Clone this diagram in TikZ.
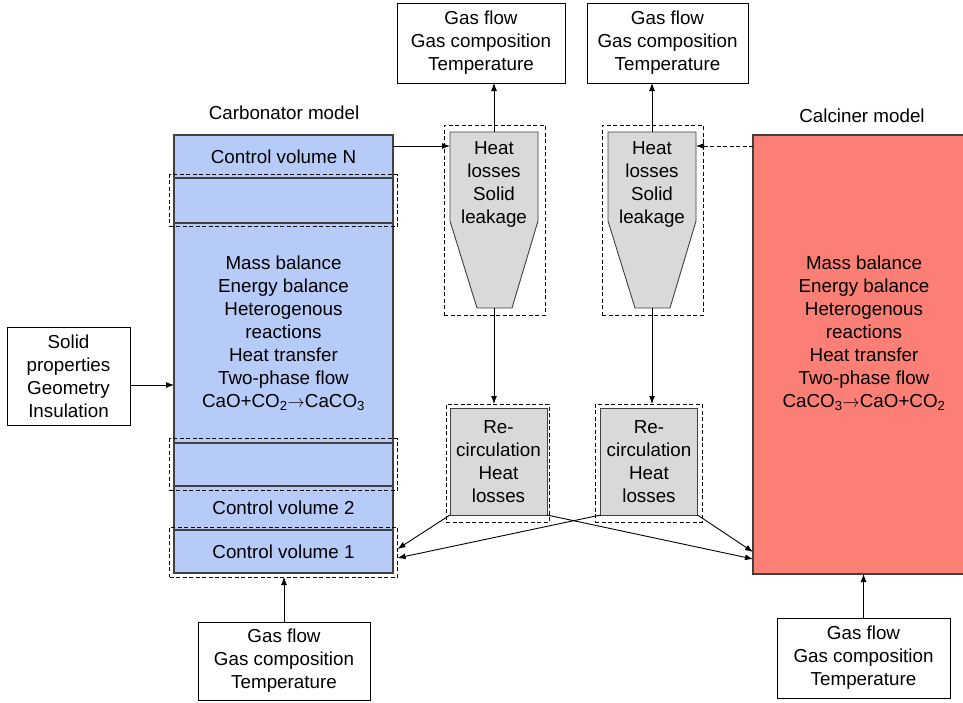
\documentclass[tikz,border=0pt]{standalone}
\usepackage{fontspec}
\setmainfont{Liberation Sans}
\usetikzlibrary{arrows.meta,calc}

\definecolor{carbblue}{RGB}{183,203,248}
\definecolor{calcred}{RGB}{251,127,117}
\definecolor{cycgray}{RGB}{217,217,217}
\definecolor{edgegray}{RGB}{64,64,64}

\begin{document}
\begin{tikzpicture}[x=1pt,y=-1pt,>={Latex[length=8pt,width=6pt]},
                    font=\fontsize{18.8}{23}\selectfont]
  \tikzstyle{box}=[rectangle,draw=black,line width=0.9pt,inner sep=0pt,outer sep=0pt,align=center]
  \tikzstyle{carb cell}=[box,draw=edgegray,fill=carbblue,line width=1.2pt,minimum width=219pt]
  \tikzstyle{dash box}=[rectangle,draw=black,line width=0.8pt,dash pattern=on 4pt off 2.5pt,inner sep=0pt,outer sep=0pt]
  \tikzstyle{gas box}=[box,minimum height=80pt]
  \tikzstyle{grey box}=[box,fill=cycgray,draw=edgegray,minimum width=97pt,minimum height=107pt]
  \tikzstyle{cyclone}=[fill=cycgray,draw=edgegray,line width=0.9pt]
  \tikzstyle{plain}=[inner sep=0pt,align=center]
  \tikzstyle{flow}=[->,line width=0.9pt]

  \useasboundingbox (0,0) rectangle (963,702);

  % carbonator column
  \node[carb cell, minimum height=43pt]  (cvN)     at (283.5,156.5) {Control volume N};
  \node[carb cell, minimum height=45pt]  (cellA)   at (283.5,200.5) {};
  \node[carb cell, minimum height=220pt] (carbmid) at (283.5,333)
       {Mass balance\\Energy balance\\Heterogenous\\reactions\\Heat transfer\\Two-phase flow\\CaO+CO\textsubscript{2}$\rightarrow$CaCO\textsubscript{3}};
  \node[carb cell, minimum height=43pt]  (cellB)   at (283.5,464.5) {};
  \node[carb cell, minimum height=44pt]  (cv2)     at (283.5,508) {Control volume 2};
  \node[carb cell, minimum height=43pt]  (cv1)     at (283.5,551.5) {Control volume 1};

  \node[dash box, minimum width=228pt, minimum height=52pt] (dcellA) at (cellA) {};
  \node[dash box, minimum width=228pt, minimum height=52pt] (dcellB) at (cellB) {};
  \node[dash box, minimum width=228pt, minimum height=50pt] (dcv1)   at (283.5,552) {};

  \node[plain] (carbtitle) at (284,113) {Carbonator model};

  % calciner
  \node[box, draw=edgegray, fill=calcred, line width=1.2pt, minimum width=222pt, minimum height=439pt] (calc) at (864,354.5) {};
  \node[plain] (calctxt) at (864,333)
       {Mass balance\\Energy balance\\Heterogenous\\reactions\\Heat transfer\\Two-phase flow\\CaCO\textsubscript{3}$\rightarrow$CaO+CO\textsubscript{2}};
  \node[plain] (calctitle) at (862,116) {Calciner model};

  % cyclones
  \node[inner sep=0pt, outer sep=0pt, minimum width=88pt, minimum height=176pt] (cyc1) at (494,220) {};
  \node[inner sep=0pt, outer sep=0pt, minimum width=88pt, minimum height=176pt] (cyc2) at (652,220) {};
  \draw[cyclone] (cyc1.north west) -- (cyc1.north east) -- ($(cyc1.north east)+(0,89)$)
       -- ($(cyc1.south)+(18,0)$) -- ($(cyc1.south)+(-17,0)$) -- ($(cyc1.north west)+(0,89)$) -- cycle;
  \draw[cyclone] (cyc2.north west) -- (cyc2.north east) -- ($(cyc2.north east)+(0,89)$)
       -- ($(cyc2.south)+(18,0)$) -- ($(cyc2.south)+(-17,0)$) -- ($(cyc2.north west)+(0,89)$) -- cycle;
  \node[plain] (cyc1txt) at (494,184) {Heat\\losses\\Solid\\leakage};
  \node[plain] (cyc2txt) at (652,184) {Heat\\losses\\Solid\\leakage};
  \node[dash box, minimum width=101pt, minimum height=190pt] (dcyc1) at (494.5,220) {};
  \node[dash box, minimum width=101pt, minimum height=190pt] (dcyc2) at (652.5,220) {};

  % recirculation
  \node[grey box] (rec1) at (498.5,461.5) {Re-\\circulation\\Heat\\losses};
  \node[grey box] (rec2) at (649,461.5) {Re-\\circulation\\Heat\\losses};
  \node[dash box, minimum width=103pt, minimum height=118pt] (drec1) at (497.5,463) {};
  \node[dash box, minimum width=107pt, minimum height=118pt] (drec2) at (648.5,463) {};

  % inputs and outputs
  \node[gas box, minimum width=168pt] (gasT1) at (481,43) {Gas flow\\Gas composition\\Temperature};
  \node[gas box, minimum width=161pt] (gasT2) at (667.5,43) {Gas flow\\Gas composition\\Temperature};
  \node[gas box, minimum width=172pt, minimum height=78pt] (gasB) at (284,661) {Gas flow\\Gas composition\\Temperature};
  \node[gas box, minimum width=173pt] (gasC) at (863.5,658) {Gas flow\\Gas composition\\Temperature};
  \node[box, minimum width=123pt, minimum height=98pt] (solid) at (68.5,376) {Solid\\properties\\Geometry\\Insulation};
  \coordinate (solidout) at ($(solid.east)+(0,9)$);

  \path[flow] (cyc1.north) edge (cyc1.north |- gasT1.south)
              (cyc2.north) edge (cyc2.north |- gasT2.south)
              (cyc1.south) edge (cyc1.south |- drec1.north)
              (cyc2.south) edge (cyc2.south |- drec2.north)
              ($(cvN.north east)+(0,11)$) edge ($(cyc1.north west)+(0,14)$)
              ($(calc.north west)+(0,11)$) edge[dash pattern=on 4pt off 2.5pt] ($(cyc2.north east)+(0,14)$)
              (solidout) edge (solidout -| carbmid.west)
              (gasB.north) edge (gasB.north |- dcv1.south)
              (gasC.north) edge (gasC.north |- calc.south)
              (rec1.south west) edge ($(dcv1.east)+(0,-3)$)
              (rec2.south west) edge ($(dcv1.east)+(0,6)$)
              (rec1.south east) edge ($(calc.south west)+(0,-15)$)
              (rec2.south east) edge ($(calc.south west)+(0,-22)$);
\end{tikzpicture}
\end{document}
